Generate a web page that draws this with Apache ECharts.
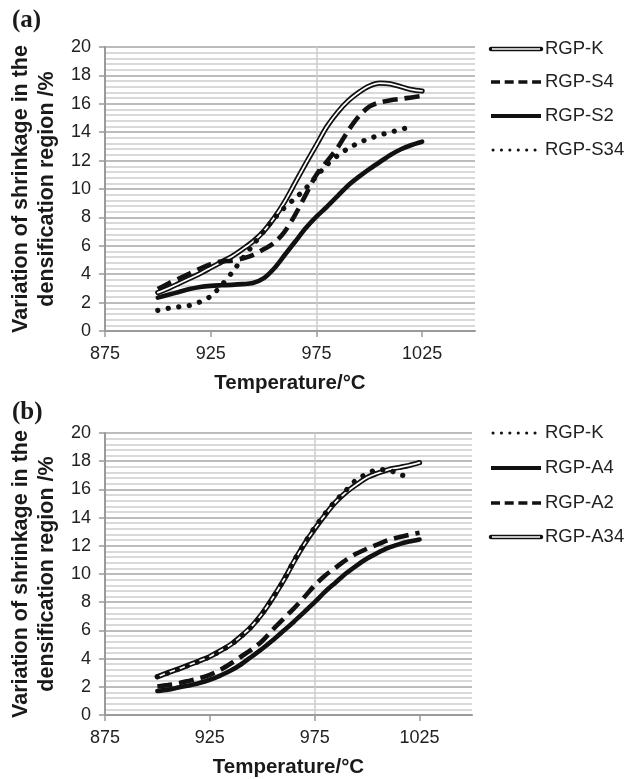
<!DOCTYPE html>
<html>
<head>
<meta charset="utf-8">
<script src="https://cdn.jsdelivr.net/npm/echarts@6/dist/echarts.min.js"></script>
<style>
html, body { margin: 0; padding: 0; background: #fff; }
#chart { width: 626px; height: 779px; }
</style>
</head>
<body>
<div id="chart"></div>
<script>
// temperatures of the measured points, °C
const temps = [900, 905, 910, 915, 920, 925, 930, 935, 940, 945, 950, 955, 960,
  965, 970, 975, 980, 985, 990, 995, 1000, 1005, 1010, 1015, 1020, 1025]
const xTickLabels = [875, 925, 975, 1025]

// panel (a)
const aK = [2.7, 3.0, 3.35, 3.7, 4.05, 4.45, 4.85, 5.25, 5.75, 6.3, 7.0, 7.95, 9.1,
  10.45, 11.8, 13.1, 14.4, 15.4, 16.2, 16.8, 17.25, 17.45, 17.4, 17.2, 17.0, 16.9]
const aS4 = [2.95, 3.35, 3.7, 4.05, 4.4, 4.7, 4.9, 4.95, 5.1, 5.35, 5.75, 6.2, 7.0,
  8.2, 9.6, 11.0, 11.95, 12.9, 14.1, 15.1, 15.8, 16.1, 16.25, 16.35, 16.45, 16.55]
const aS2 = [2.35, 2.55, 2.75, 2.95, 3.1, 3.18, 3.22, 3.25, 3.3, 3.38, 3.7, 4.4, 5.35,
  6.3, 7.25, 8.05, 8.75, 9.5, 10.25, 10.85, 11.4, 11.9, 12.4, 12.8, 13.1, 13.33]
const aS34 = [1.45, 1.6, 1.7, 1.8, 2.05, 2.45, 3.2, 4.1, 5.1, 6.05, 7.0, 7.9, 8.7,
  9.35, 10.05, 10.9, 11.7, 12.35, 12.85, 13.25, 13.55, 13.8, 14.0, 14.2, 14.4]

// panel (b)
const bK = [2.7, 2.98, 3.24, 3.53, 3.82, 4.13, 4.53, 4.98, 5.58, 6.28, 7.18, 8.3, 9.5,
  10.9, 12.15, 13.3, 14.3, 15.2, 15.95, 16.7, 17.1, 17.4, 17.4, 17.05, 16.95]
const bA4 = [1.7, 1.8, 1.95, 2.1, 2.27, 2.5, 2.8, 3.15, 3.6, 4.15, 4.7, 5.3, 5.95,
  6.6, 7.3, 8.0, 8.75, 9.4, 10.05, 10.6, 11.1, 11.5, 11.85, 12.1, 12.3, 12.45]
const bA2 = [2.02, 2.12, 2.25, 2.42, 2.6, 2.85, 3.2, 3.65, 4.15, 4.65, 5.25, 6.05, 6.8,
  7.55, 8.35, 9.2, 9.9, 10.45, 11.0, 11.45, 11.8, 12.1, 12.4, 12.6, 12.78, 12.92]
const bA34 = [2.72, 3.0, 3.26, 3.55, 3.84, 4.15, 4.55, 5.0, 5.6, 6.3, 7.2, 8.3, 9.5,
  10.85, 12.1, 13.2, 14.2, 15.1, 15.8, 16.35, 16.84, 17.15, 17.4, 17.55, 17.7, 17.9]

const FONT = 'Liberation Sans, Arial, sans-serif'
const INK = '#111'
const AX = '#9a9a9a'
const MAJOR = '#a6a6a6'
const MINOR = '#cdcdcd'
const NONE = 'rgba(0,0,0,0)'
// vertical grid: a line every 10 °C from 875, darker every 50
const vLineColors = [MAJOR, NONE, MINOR, NONE, MINOR, NONE, MINOR, NONE, MINOR, NONE]

function pairs (ys) {
  return ys.map((y, i) => [temps[i], y])
}

function makeX (gi) {
  return {
    type: 'value',
    gridIndex: gi,
    min: 875,
    max: 1050,
    interval: 5,
    name: 'Temperature/°C',
    nameLocation: 'middle',
    nameGap: 42,
    nameTextStyle: { fontFamily: FONT, fontWeight: 'bold', fontSize: 20.5, color: '#1a1a1a' },
    axisLine: { lineStyle: { color: AX, width: 2 } },
    axisTick: { customValues: xTickLabels, length: 6, lineStyle: { color: AX, width: 1.5 } },
    axisLabel: {
      customValues: xTickLabels,
      formatter: v => String(v),
      margin: 14,
      fontFamily: FONT,
      fontSize: 18,
      color: '#222'
    },
    splitLine: { show: true, lineStyle: { color: vLineColors, width: 1.5 } }
  }
}

function makeY (gi) {
  return {
    type: 'value',
    gridIndex: gi,
    min: 0,
    max: 20,
    interval: 2,
    name: 'Variation of shrinkage in the\ndensification region /%',
    nameLocation: 'middle',
    nameGap: 44,
    nameTextStyle: { fontFamily: FONT, fontWeight: 'bold', fontSize: 21.5, lineHeight: 26, color: '#1a1a1a' },
    axisLine: { show: true, lineStyle: { color: AX, width: 2 } },
    axisTick: { show: true, length: 6, lineStyle: { color: AX, width: 1.5 } },
    axisLabel: { margin: 14, fontFamily: FONT, fontSize: 18, color: '#222' },
    splitLine: { show: true, lineStyle: { color: MAJOR, width: 1.5 } },
    minorTick: { show: false, splitNumber: 5 },
    minorSplitLine: { show: true, lineStyle: { color: MINOR, width: 1.5 } }
  }
}

function line (gi, ys, style, z) {
  return {
    type: 'line',
    xAxisIndex: gi,
    yAxisIndex: gi,
    data: pairs(ys),
    symbol: 'none',
    smooth: 0.3,
    silent: true,
    z: z || 2,
    lineStyle: Object.assign({ color: INK, width: 4.5, cap: 'round' }, style)
  }
}

// double line = thick black with a thin white line on top
function double (gi, ys) {
  return [line(gi, ys, { width: 5.2 }, 2), line(gi, ys, { color: '#fff', width: 1.7 }, 3)]
}
const solid = (gi, ys) => line(gi, ys, { width: 4.6 }, 4)
const dashed = (gi, ys) => line(gi, ys, { width: 4.6, type: [15, 7], cap: 'butt' }, 4)
const dotted = (gi, ys) => line(gi, ys, { width: 5.2, type: [0.1, 10.5] }, 5)

// legend drawn by hand so the double line can be shown
function legendItem (y, kind, label) {
  const shape = { x1: 491, y1: y, x2: 541, y2: y }
  const els = []
  if (kind === 'double') {
    els.push({ type: 'line', shape, style: { stroke: INK, lineWidth: 4.5, lineCap: 'round' } })
    els.push({ type: 'line', shape: { x1: 492, y1: y, x2: 540, y2: y }, style: { stroke: '#fff', lineWidth: 1.5 } })
  } else if (kind === 'dash') {
    els.push({ type: 'line', shape, style: { stroke: INK, lineWidth: 3.5, lineDash: [9, 4.7] } })
  } else if (kind === 'dot') {
    els.push({ type: 'line', shape: { x1: 493, y1: y, x2: 541, y2: y }, style: { stroke: INK, lineWidth: 3, lineDash: [0.1, 8.3], lineCap: 'round' } })
  } else {
    els.push({ type: 'line', shape, style: { stroke: INK, lineWidth: 3.8 } })
  }
  els.push({
    type: 'text', x: 545, y: y,
    style: { text: label, fontFamily: FONT, fontSize: 18.5, fill: '#222', verticalAlign: 'middle' }
  })
  return els
}

const chart = echarts.init(document.getElementById('chart'), null, { renderer: 'canvas' })
chart.setOption({
  animation: false,
  backgroundColor: '#fff',
  grid: [
    { left: 104, top: 47, width: 371, height: 284 },
    { left: 104, top: 433, width: 368, height: 285 }
  ],
  xAxis: [makeX(0), makeX(1)],
  yAxis: [makeY(0), makeY(1)],
  series: [
    ...double(0, aK),
    dashed(0, aS4),
    solid(0, aS2),
    dotted(0, aS34),
    ...double(1, bA34),
    solid(1, bA4),
    dashed(1, bA2),
    dotted(1, bK)
  ],
  graphic: [
    { type: 'text', x: 12, y: 8, style: { text: '(a)', fontFamily: 'Liberation Serif, serif', fontWeight: 'bold', fontSize: 25, fill: '#1a1a1a' } },
    { type: 'text', x: 12, y: 400, style: { text: '(b)', fontFamily: 'Liberation Serif, serif', fontWeight: 'bold', fontSize: 25, fill: '#1a1a1a' } },
    ...legendItem(49, 'double', 'RGP-K'),
    ...legendItem(82, 'dash', 'RGP-S4'),
    ...legendItem(116, 'solid', 'RGP-S2'),
    ...legendItem(150, 'dot', 'RGP-S34'),
    ...legendItem(433, 'dot', 'RGP-K'),
    ...legendItem(468, 'solid', 'RGP-A4'),
    ...legendItem(503, 'dash', 'RGP-A2'),
    ...legendItem(537, 'double', 'RGP-A34')
  ]
})
</script>
</body>
</html>
